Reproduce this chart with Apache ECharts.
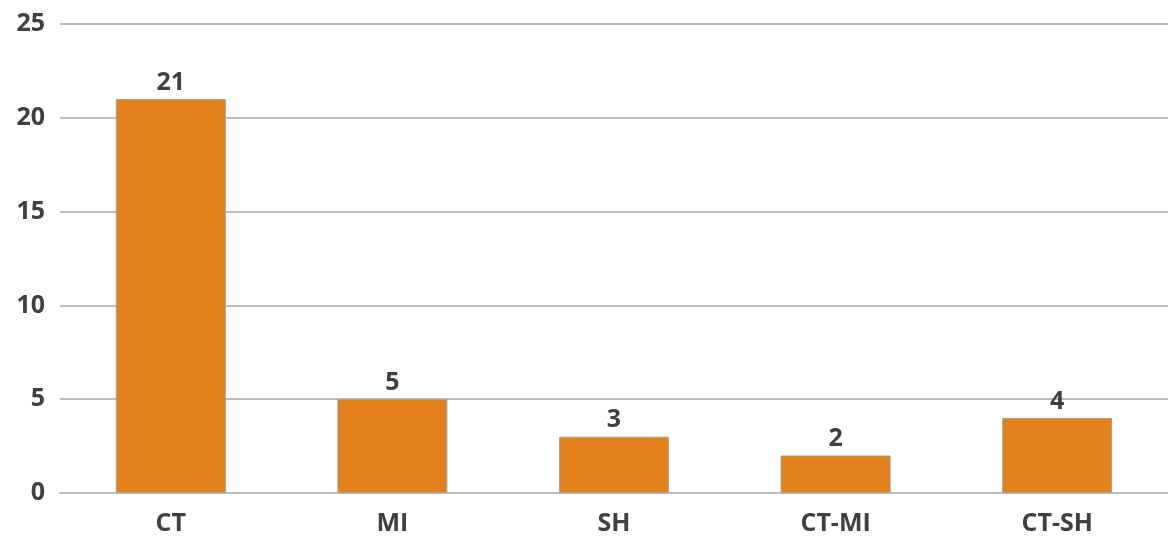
<!DOCTYPE html>
<html><head><meta charset="utf-8">
<script src="https://cdn.jsdelivr.net/npm/echarts@6/dist/echarts.min.js"></script>
<style>html,body{margin:0;padding:0;background:#fff}#c{width:1168px;height:542px}</style>
</head><body><div id="c"></div>
<script>
var categories = ['CT', 'MI', 'SH', 'CT-MI', 'CT-SH'];
var values = [21, 5, 3, 2, 4];
var yTicks = [0, 5, 10, 15, 20, 25];

var chart = echarts.init(document.getElementById('c'), null, {renderer: 'canvas'});
chart.setOption({
  animation: false,
  grid: {left: 60, width: 1113, top: 24, bottom: 49, containLabel: false},
  xAxis: {
    type: 'category', data: categories,
    axisLine: {show: true, lineStyle: {color: '#bcbcbc', width: 2}},
    axisTick: {show: false},
    axisLabel: {color: '#404040', fontFamily: 'Open Sans', fontWeight: 'bold', fontSize: 25, margin: 18}
  },
  yAxis: {
    type: 'value', min: yTicks[0], max: yTicks[yTicks.length - 1], interval: 5,
    axisLine: {show: false}, axisTick: {show: false},
    splitLine: {lineStyle: {color: '#bcbcbc', width: 2}},
    axisLabel: {color: '#404040', fontFamily: 'Open Sans', fontWeight: 'bold', fontSize: 25, margin: 15}
  },
  series: [{
    type: 'bar', data: values, barWidth: 110,
    itemStyle: {color: '#e3821a', borderColor: '#a0a0a0', borderWidth: 1},
    label: {show: true, position: 'top', distance: 4, color: '#404040', fontFamily: 'Open Sans', fontWeight: 'bold', fontSize: 25}
  }]
});
</script></body></html>
